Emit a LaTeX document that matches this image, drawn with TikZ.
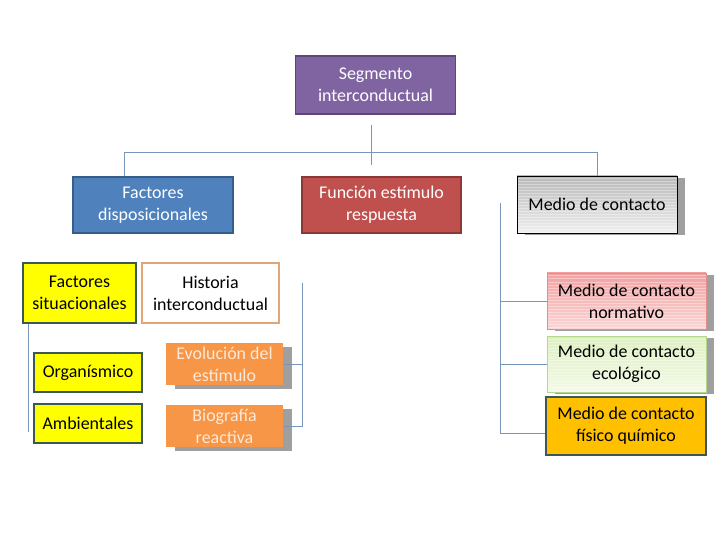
\documentclass[tikz,border=0pt]{standalone}
\usepackage{fontspec}
\setmainfont{Carlito}
\usetikzlibrary{shadows}

\definecolor{segfill}{HTML}{8064A2}
\definecolor{segline}{HTML}{5C4776}
\definecolor{dispfill}{HTML}{4F81BD}
\definecolor{displine}{HTML}{385D8A}
\definecolor{funcfill}{HTML}{C0504D}
\definecolor{funcline}{HTML}{8C3836}
\definecolor{linkblue}{HTML}{7895BA}
\definecolor{slateline}{HTML}{3B5757}
\definecolor{sityellow}{HTML}{FFFF00}
\definecolor{histline}{HTML}{E4A576}
\definecolor{evolfill}{HTML}{F79646}
\definecolor{evoltext}{HTML}{FDE9D9}
\definecolor{normtop}{HTML}{F2A2A2}
\definecolor{normbot}{HTML}{FBD5D5}
\definecolor{normline}{HTML}{E38D8D}
\definecolor{ecotop}{HTML}{DDEFC0}
\definecolor{ecobot}{HTML}{F3FAE8}
\definecolor{ecoline}{HTML}{B5D68E}
\definecolor{fisfill}{HTML}{FFC000}

\begin{document}
\begin{tikzpicture}[x=1bp, y=-1bp,
	every node/.style={font=\fontsize{18}{22}\selectfont, align=center, inner sep=0pt},
	card/.style={draw, line width=1.6bp, minimum height=56bp},
	glossy/.style={drop shadow={shadow xshift=8bp, shadow yshift=-2bp, fill=gray!75, opacity=1},
		path picture={\foreach \k in {1,...,19}
			\draw [white, opacity=0.35, line width=1bp]
				([yshift=-3*\k bp]path picture bounding box.north west) -- ([yshift=-3*\k bp]path picture bounding box.north east);}},
	tabbed/.style={drop shadow={shadow xshift=9bp, shadow yshift=-4bp, fill=gray!75, opacity=1}},
	linkline/.style={draw=linkblue, line width=1bp}]
	\useasboundingbox (0,0) rectangle (728,546);

	% upper level
	\node [card, fill=segfill, draw=segline, text=white, minimum width=160bp, minimum height=58bp] (seg) at (375.5,85) {Segmento\\interconductual};
	\node [card, fill=dispfill, draw=displine, text=white, minimum width=160bp] (fdisp) at (153,205) {Factores\\disposicionales};
	\node [card, fill=funcfill, draw=funcline, text=white, minimum width=159bp] (func) at (381.5,205) {Función estímulo\\respuesta};
	\node [card, glossy, top color=gray!55, bottom color=gray!12, draw=black, line width=0.8bp, minimum width=160bp, minimum height=57bp] (medio) at (597,204.5) {Medio de contacto};

	% left side
	\node [card, fill=sityellow, draw=slateline, minimum width=113bp, minimum height=60bp] (fsit) at (79.5,293) {Factores\\situacionales};
	\node [card, fill=white, draw=histline, minimum width=137bp, minimum height=60bp] (hist) at (210.5,293) {Historia\\interconductual};
	\node [card, fill=sityellow, draw=slateline, minimum width=108bp, minimum height=39bp] (org) at (88,372.5) {Organísmico};
	\node [card, fill=sityellow, draw=slateline, minimum width=108bp, minimum height=39bp] (amb) at (88,423.5) {Ambientales};
	\node [tabbed, fill=evolfill, text=evoltext, minimum width=117bp, minimum height=42bp] (evol) at (224.5,364) {Evolución del\\estímulo};
	\node [tabbed, fill=evolfill, text=evoltext, minimum width=117bp, minimum height=42bp] (bio) at (224.5,426) {Biografía\\reactiva};

	% right side
	\node [card, glossy, top color=normtop, bottom color=normbot, draw=normline, line width=0.8bp, minimum width=159bp] (norm) at (626.5,301) {Medio de contacto\\normativo};
	\node [card, glossy, top color=ecotop, bottom color=ecobot, draw=ecoline, line width=0.8bp, minimum width=159bp] (eco) at (626.5,364) {Medio de contacto\\ecológico};
	\node [card, fill=fisfill, draw=slateline, minimum width=160bp, minimum height=58bp] (fis) at (626,426) {Medio de contacto\\físico químico};

	% connectors
	\coordinate (stem) at (371,125);
	\coordinate (stemend) at (371,165);
	\coordinate (hubL) at (124,153);
	\coordinate (hubR) at (597,153);
	\draw [linkline] (stem) -- (stemend);
	\draw [linkline] (hubL |- fdisp.north) -- (hubL) -- (hubR) -- (medio.north);

	\coordinate (mtop) at (500,203);
	\coordinate (mbot) at (500,433);
	\draw [linkline] (mtop) -- (mbot) -- (mbot -| fis.west);
	\draw [linkline] (mtop |- norm.west) -- (norm.west);
	\draw [linkline] (mtop |- eco.west) -- (eco.west);

	\coordinate (sitbar) at (28,432);
	\draw [linkline] (sitbar |- fsit.south) -- (sitbar);

	\coordinate (histtop) at (302,283);
	\coordinate (histbot) at (302,426);
	\draw [linkline] (histtop) -- (histbot) -- (bio.east);
	\draw [linkline] (histtop |- evol.east) -- (evol.east);
\end{tikzpicture}
\end{document}
